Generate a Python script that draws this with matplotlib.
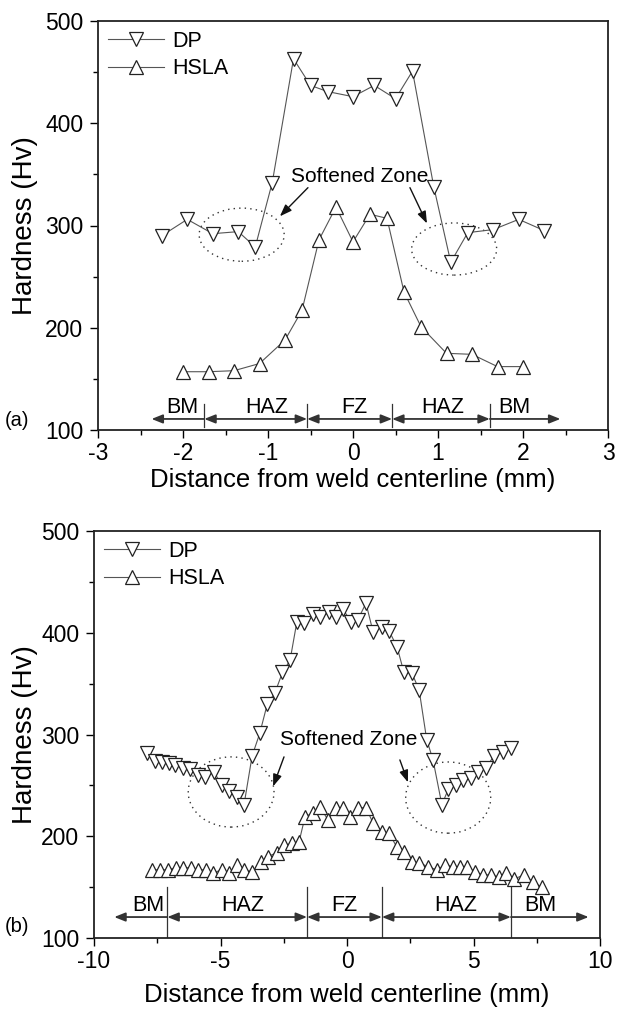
import numpy as np
import matplotlib
matplotlib.use("Agg")
import matplotlib.pyplot as plt
from matplotlib.patches import Ellipse
from matplotlib.ticker import MultipleLocator

plt.rcParams['font.family'] = ['Liberation Sans', 'DejaVu Sans']
plt.rcParams['axes.unicode_minus'] = False

# Panel (a) - hardness profile, narrow weld
dp_a_x = [-2.25, -1.95, -1.65, -1.35, -1.15, -0.95, -0.70, -0.50, -0.30, 0.0,
          0.25, 0.50, 0.70, 0.95, 1.15, 1.35, 1.65, 1.95, 2.25]
dp_a_y = [290, 306, 292, 294, 279, 342, 463, 437, 431, 426,
          437, 424, 451, 338, 264, 293, 296, 306, 295]
hsla_a_x = [-2.0, -1.7, -1.4, -1.1, -0.8, -0.6, -0.4, -0.2, 0.0, 0.2,
            0.4, 0.6, 0.8, 1.1, 1.4, 1.7, 2.0]
hsla_a_y = [157, 157, 158, 165, 188, 217, 286, 318, 284, 311,
            307, 235, 201, 175, 174, 162, 162]

# Panel (b) - hardness profile, wide weld
dp_b_x = [-7.9, -7.6, -7.3, -7.05, -6.8, -6.5, -6.2, -5.9, -5.6, -5.25,
          -4.95, -4.65, -4.35, -4.07, -3.75, -3.45, -3.15, -2.85, -2.55, -2.25,
          -1.98, -1.7, -1.35, -1.07, -0.7, -0.43, -0.16, 0.16, 0.43, 0.75,
          1.03, 1.38, 1.66, 1.98, 2.25, 2.57, 2.85, 3.15, 3.4, 3.75,
          4.0, 4.3, 4.58, 4.9, 5.18, 5.5, 5.8, 6.15, 6.5]
dp_b_y = [282, 274, 273, 272, 270, 267, 266, 260, 258, 263,
          250, 244, 239, 231, 279, 301, 330, 341, 361, 373,
          411, 410, 418, 415, 420, 415, 423, 411, 413, 429,
          401, 406, 402, 386, 361, 360, 344, 295, 275, 231,
          246, 250, 255, 257, 263, 267, 279, 283, 287]
hsla_b_x = [-7.7, -7.4, -7.08, -6.76, -6.48, -6.17, -5.89, -5.57, -5.3, -4.94,
            -4.66, -4.35, -4.07, -3.75, -3.4, -3.12, -2.77, -2.49, -2.17, -1.9,
            -1.66, -1.34, -1.07, -0.75, -0.43, -0.16, 0.12, 0.43, 0.75, 1.03,
            1.38, 1.66, 1.98, 2.25, 2.57, 2.85, 3.2, 3.56, 3.87, 4.19,
            4.47, 4.74, 5.06, 5.38, 5.7, 6.0, 6.3, 6.6, 7.0, 7.35, 7.7]
hsla_b_y = [167, 167, 167, 169, 169, 169, 167, 167, 164, 167,
            164, 172, 167, 165, 175, 180, 184, 191, 193, 194,
            219, 223, 229, 216, 228, 228, 219, 228, 228, 213,
            204, 203, 189, 185, 175, 174, 170, 167, 172, 170,
            170, 170, 165, 162, 162, 160, 164, 158, 162, 155, 150]

zone_names = ['BM', 'HAZ', 'FZ', 'HAZ', 'BM']
zone_edges_a = [-2.37, -1.75, -0.54, 0.46, 1.61, 2.44]
zone_edges_b = [-9.2, -7.1, -1.58, 1.38, 6.48, 9.55]

fig = plt.figure(figsize=(6.17, 10.14), dpi=100)
ax_a = fig.add_axes([98 / 617, 1 - 430 / 1014, 510 / 617, 409 / 1014])
ax_b = fig.add_axes([94 / 617, 1 - 938 / 1014, 506 / 617, 407 / 1014])

line_kw = dict(color='#555555', lw=0.8, ms=9.5, mfc='white', mec='#222222', mew=0.9)


def zone_bar(ax, edges, y_arrow, y_lo, y_hi, label_x, y_text):
    for i in range(5):
        if i == 0:
            style = '<|-'
        elif i == 4:
            style = '-|>'
        else:
            style = '<|-|>'
        ax.annotate('', xy=(edges[i + 1], y_arrow), xytext=(edges[i], y_arrow),
                    arrowprops=dict(arrowstyle=style + ',head_length=0.55,head_width=0.22',
                                    mutation_scale=12, lw=1.3, color='#333333',
                                    shrinkA=0, shrinkB=0))
        ax.text(label_x[i], y_text, zone_names[i], ha='center', va='center', fontsize=15.5)
    for e in edges[1:-1]:
        ax.plot([e, e], [y_lo, y_hi], color='#333333', lw=0.9)


def style_axes(ax, xlim, xmaj, xmin):
    ax.set_xlim(*xlim)
    ax.set_ylim(100, 500)
    ax.xaxis.set_major_locator(MultipleLocator(xmaj))
    ax.xaxis.set_minor_locator(MultipleLocator(xmin))
    ax.yaxis.set_major_locator(MultipleLocator(100))
    ax.yaxis.set_minor_locator(MultipleLocator(50))
    ax.tick_params(which='major', direction='out', length=5.5, width=1.0, labelsize=16.5, pad=3)
    ax.tick_params(which='minor', direction='out', length=3.5, width=1.0)
    ax.tick_params(axis='y', which='major', pad=5)
    for s in ax.spines.values():
        s.set_linewidth(1.3)
        s.set_color('#222222')
    ax.set_ylabel('Hardness (Hv)', fontsize=20)
    ax.set_xlabel('Distance from weld centerline (mm)', fontsize=18.5)
    ax.legend(loc='upper left', frameon=False, fontsize=15.5, handlelength=2.6,
              handletextpad=0.4, labelspacing=0.3, borderaxespad=0.3, borderpad=0.15)


# panel (a)
ax = ax_a
ax.plot(dp_a_x, dp_a_y, marker='v', label='DP', **line_kw)
ax.plot(hsla_a_x, hsla_a_y, marker='^', label='HSLA', **line_kw)
ax.add_patch(Ellipse((-1.31, 291), 1.0, 52, fill=False, ls=(0, (1, 3)), lw=1.0, color='#333333'))
ax.add_patch(Ellipse((1.19, 277), 1.0, 51, fill=False, ls=(0, (1, 3)), lw=1.0, color='#333333'))
ax.text(0.08, 348, 'Softened Zone', ha='center', va='center', fontsize=15)
arw = dict(arrowstyle='-|>,head_length=0.6,head_width=0.22', mutation_scale=12, lw=1.0,
           color='#111111', shrinkA=0, shrinkB=0)
ax.annotate('', xy=(-0.86, 309), xytext=(-0.53, 337), arrowprops=arw)
ax.annotate('', xy=(0.87, 302), xytext=(0.67, 337), arrowprops=arw)
zone_bar(ax, zone_edges_a, 110.8, 103, 125, [-2.01, -1.01, 0.01, 1.06, 1.9], 122)
style_axes(ax, (-3, 3), 1, 0.5)
ax.yaxis.set_label_coords(-0.143, 0.5)
ax.yaxis.label.set_va('center')
ax.xaxis.set_label_coords(0.5, -0.122)
ax.xaxis.label.set_va('center')

# panel (b)
ax = ax_b
ax.plot(dp_b_x, dp_b_y, marker='v', label='DP', **line_kw)
ax.plot(hsla_b_x, hsla_b_y, marker='^', label='HSLA', **line_kw)
ax.add_patch(Ellipse((-4.58, 243.5), 3.39, 69, fill=False, ls=(0, (1, 3)), lw=1.0, color='#333333'))
ax.add_patch(Ellipse((4.0, 238), 3.36, 70, fill=False, ls=(0, (1, 3)), lw=1.0, color='#333333'))
ax.text(0.06, 294.6, 'Softened Zone', ha='center', va='center', fontsize=15)
ax.annotate('', xy=(-2.92, 249), xytext=(-2.49, 278), arrowprops=arw)
ax.annotate('', xy=(2.41, 253), xytext=(2.09, 275), arrowprops=arw)
zone_bar(ax, zone_edges_b, 120.6, 100, 150, [-7.87, -4.13, -0.12, 4.3, 7.63], 132.4)
style_axes(ax, (-10, 10), 5, 2.5)
ax.yaxis.set_label_coords(-0.136, 0.5)
ax.yaxis.label.set_va('center')
ax.xaxis.set_label_coords(0.5, -0.14)
ax.xaxis.label.set_va('center')

fig.text(5 / 617, 1 - 421 / 1014, '(a)', ha='left', va='center', fontsize=14.5)
fig.text(5 / 617, 1 - 926 / 1014, '(b)', ha='left', va='center', fontsize=14.5)

fig.savefig('out.png', dpi=100)
